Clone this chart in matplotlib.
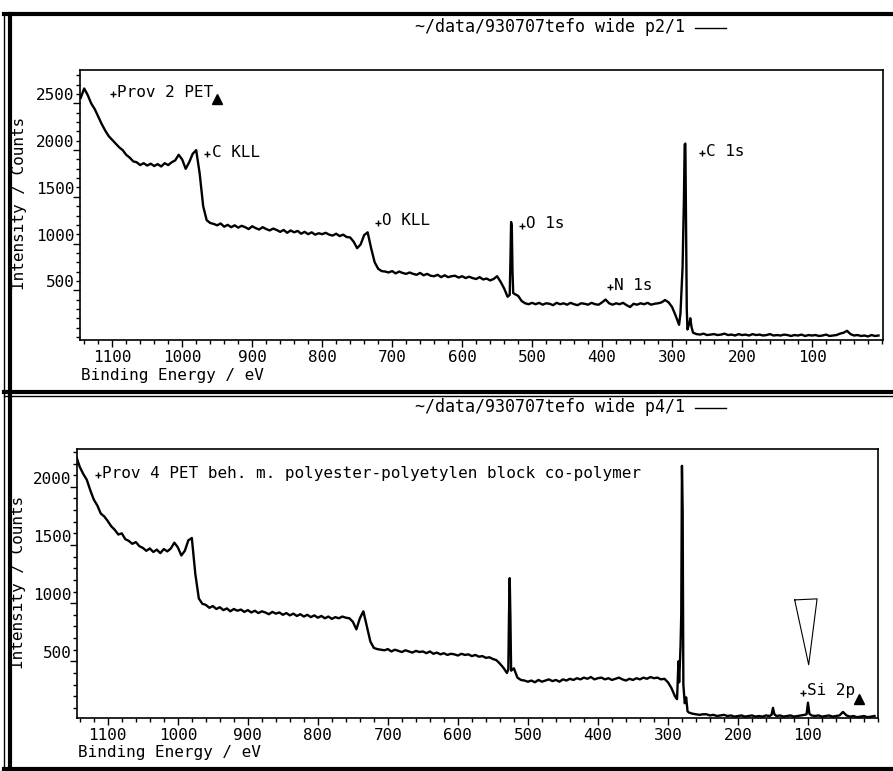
import numpy as np
import matplotlib
matplotlib.use("Agg")
from matplotlib import pyplot as plt
from matplotlib.ticker import MultipleLocator, FixedLocator
from matplotlib.lines import Line2D

plt.rcParams['font.family'] = ['DejaVu Sans Mono']
plt.rcParams['font.size'] = 11.5

# ---- data (binding energy in eV, counts) ----
be_grid = np.arange(1145, 0, -5)

top_counts = [
    2560, 2660, 2590, 2500, 2440, 2360, 2280, 2210, 2150, 2110,   # 1145-1100
    2070, 2030, 2000, 1950, 1920, 1880, 1870, 1840, 1860, 1835,   # 1095-1050
    1855, 1830, 1850, 1825, 1860, 1840, 1870, 1890, 1950, 1900,   # 1045-1000
    1800, 1870, 1960, 2000, 1750, 1400, 1250, 1220, 1210, 1195,   # 995-950
    1215, 1180, 1200, 1175, 1195, 1170, 1190, 1175, 1155, 1185,   # 945-900
    1165, 1150, 1175, 1155, 1140, 1160, 1145, 1125, 1145, 1115,   # 895-850
    1140, 1120, 1135, 1105, 1125, 1100, 1120, 1095, 1110, 1100,   # 845-800
    1115, 1095, 1085, 1105, 1080, 1095, 1070, 1065, 1020, 950,    # 795-750
    990, 1090, 1120, 950, 800, 730, 705, 700, 690, 705,           # 745-700
    680, 700, 685, 675, 690, 675, 665, 685, 660, 675,             # 695-650
    655, 650, 665, 640, 660, 640, 650, 655, 635, 650,             # 645-600
    630, 645, 630, 620, 640, 615, 625, 605, 620, 650,             # 595-550
    590, 520, 430, 1230, 460, 440, 385, 360, 350, 365,            # 545-500
    350, 365, 345, 360, 355, 340, 365, 350, 360, 345,             # 495-450
    365, 350, 340, 360, 355, 345, 365, 350, 345, 370,             # 445-400
    400, 360, 345, 360, 350, 365, 340, 320, 355, 345,             # 395-350
    360, 350, 365, 345, 355, 360, 370, 395, 370, 320,             # 345-300
    230, 130, 745, 1200, 150, 45, 30, 25, 35, 20,                 # 295-250
    25, 30, 20, 25, 35, 20, 25, 15, 30, 20,                       # 245-200
    25, 15, 30, 20, 25, 15, 20, 30, 15, 20,                       # 195-150
    15, 25, 20, 10, 20, 15, 25, 10, 20, 15,                       # 145-100
    20, 10, 15, 25, 10, 15, 20, 35, 45, 65,                       # 95-50
    30, 15, 20, 10, 15, 5, 20, 10, 15,                            # 45-5
]
# extra points on the narrow lines (O 1s, C 1s)
top_peak_be = [532, 531, 529, 528, 527, 288, 287, 283, 282, 281, 279, 278, 276, 274, 272]
top_peak_counts = [450, 800, 1180, 700, 470, 250, 420, 1500, 2060, 2070, 300, 80, 130, 200, 100]

bot_counts = [
    2260, 2170, 2110, 2060, 1970, 1890, 1840, 1770, 1745, 1705,   # 1145-1100
    1660, 1630, 1590, 1600, 1550, 1535, 1510, 1525, 1490, 1475,   # 1095-1050
    1450, 1470, 1440, 1460, 1430, 1465, 1445, 1470, 1520, 1480,   # 1045-1000
    1410, 1450, 1540, 1560, 1250, 1040, 995, 985, 960, 975,       # 995-950
    950, 965, 940, 955, 930, 950, 935, 945, 925, 940,             # 945-900
    920, 935, 915, 930, 920, 905, 925, 910, 920, 900,             # 895-850
    915, 895, 910, 890, 905, 885, 900, 880, 895, 875,             # 845-800
    890, 870, 885, 865, 880, 870, 885, 875, 870, 840,             # 795-750
    775, 870, 930, 800, 670, 615, 605, 600, 595, 605,             # 745-700
    585, 600, 590, 580, 595, 585, 575, 590, 580, 585,             # 695-650
    570, 585, 565, 575, 560, 570, 555, 565, 560, 550,             # 645-600
    565, 555, 560, 545, 555, 540, 545, 530, 535, 520,             # 595-550
    510, 480, 445, 400, 880, 440, 360, 340, 335, 325,             # 545-500
    335, 320, 340, 325, 335, 345, 330, 340, 325, 345,             # 495-450
    335, 350, 340, 355, 345, 360, 350, 365, 345, 355,             # 445-400
    360, 345, 355, 340, 350, 360, 345, 335, 350, 340,             # 395-350
    355, 345, 360, 350, 365, 355, 360, 345, 350, 320,             # 345-300
    270, 200, 500, 2180, 160, 60, 50, 45, 40, 45,                 # 295-250
    45, 35, 40, 30, 35, 40, 30, 35, 25, 30,                       # 245-200
    35, 25, 30, 35, 25, 30, 25, 35, 30, 100,                      # 195-150
    30, 35, 25, 30, 35, 25, 30, 35, 40, 145,                      # 145-100
    35, 30, 35, 25, 30, 35, 25, 30, 35, 65,                       # 95-50
    35, 25, 30, 20, 25, 30, 20, 25, 30,                           # 45-5
]
bot_peak_be = [528, 527, 526, 524, 287, 284, 282, 281, 279, 278, 276, 274, 272, 152, 148, 102, 98]
bot_peak_counts = [430, 900, 1215, 420, 175, 320, 630, 900, 1800, 300, 140, 190, 70, 40, 45, 45, 50]

# peak labels: (energy, counts, text)
top_labels = [(1099, 2596, 'Prov 2 PET'), (964, 1957, 'C KLL'), (720, 1223, 'O KLL'),
              (514, 1191, 'O 1s'), (389, 532, 'N 1s'), (257, 1968, 'C 1s')]
top_flag = (950, 2543)
bot_labels = [(1114, 2100, 'Prov 4 PET beh. m. polyester-polyetylen block co-polymer'),
              (107, 231, 'Si 2p')]
bot_flag = (27, 177)
cursor_be = [119, 87, 99]
cursor_counts = [1028, 1037, 471]

W, H = 893, 771
fig = plt.figure(figsize=(W / 100, H / 100), dpi=100)


def merged(grid_counts, peak_be, peak_counts):
    be = np.concatenate([be_grid, peak_be])
    cts = np.concatenate([grid_counts, peak_counts])
    order = np.argsort(-be)
    return be[order], cts[order]


def panel(rect, be, cts, xlim, ylim, yticks, labels, flag):
    ax = fig.add_axes(rect)
    ax.plot(be, cts, color='k', lw=1.7)
    ax.set_xlim(*xlim)
    ax.set_ylim(*ylim)
    ax.xaxis.set_major_locator(FixedLocator(range(100, 1101, 100)))
    ax.xaxis.set_minor_locator(MultipleLocator(20))
    ax.yaxis.set_major_locator(FixedLocator(yticks))
    ax.yaxis.set_minor_locator(MultipleLocator(100))
    ax.tick_params(which='major', direction='out', length=5, width=1, pad=2)
    ax.tick_params(which='minor', direction='out', length=3, width=1)
    ax.tick_params(axis='y', which='major', pad=-1, length=5)
    for t in ax.get_yticklabels():
        t.set_va('bottom')
    for s in ax.spines.values():
        s.set_linewidth(1.2)
    for e, c, txt in labels:
        ax.plot(e, c, marker='+', ms=4, mew=1, color='k')
        ax.annotate(txt, xy=(e, c), xytext=(3, -2), textcoords='offset points',
                    va='baseline', ha='left')
    ax.plot(*flag, marker='^', ms=7, color='k')
    return ax


def fx(px):
    return px / W


def fy(py):
    return 1 - py / H


be_t, c_t = merged(top_counts, top_peak_be, top_peak_counts)
ax1 = panel([fx(80), fy(340), fx(883) - fx(80), fy(70) - fy(340)], be_t, c_t,
            (1146, -1.4), (-33, 2858), [500, 1000, 1500, 2000, 2500], top_labels, top_flag)

be_b, c_b = merged(bot_counts, bot_peak_be, bot_peak_counts)
ax2 = panel([fx(77), fy(718), fx(878) - fx(77), fy(449) - fy(718)], be_b, c_b,
            (1144, 0), (13, 2325), [500, 1000, 1500, 2000], bot_labels, bot_flag)
ax2.plot(cursor_be + cursor_be[:1], cursor_counts + cursor_counts[:1], color='k', lw=0.8)

# headers, axis titles
for py, name in [(27, '~/data/930707tefo wide p2/1'), (407, '~/data/930707tefo wide p4/1')]:
    fig.text(fx(415), fy(py), name, ha='left', va='center', fontsize=12)
    fig.add_artist(Line2D([fx(695), fx(726)], [fy(py + 1)] * 2, color='k', lw=1))

fig.text(fx(81), fy(375), 'Binding Energy / eV', ha='left', va='center')
fig.text(fx(78), fy(753), 'Binding Energy / eV', ha='left', va='center')
fig.text(fx(20), fy(203), 'Intensity / Counts', rotation=90, ha='center', va='center')
fig.text(fx(19), fy(582), 'Intensity / Counts', rotation=90, ha='center', va='center')

# double frame lines around the two panels
for py, lw in [(14, 3), (392, 3), (396, 1), (769, 3)]:
    fig.add_artist(Line2D([fx(4), 1], [fy(py)] * 2, color='k', lw=lw))
fig.add_artist(Line2D([fx(4), fx(4)], [fy(14), fy(769)], color='k', lw=1))
fig.add_artist(Line2D([fx(10), fx(10)], [fy(14), fy(769)], color='k', lw=3))

fig.savefig('out.png', dpi=100)
